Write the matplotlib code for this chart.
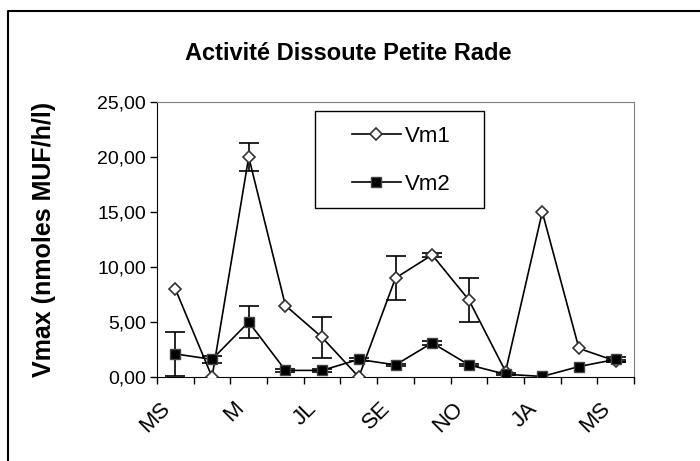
import matplotlib.pyplot as plt
import matplotlib.transforms as mtransforms
from matplotlib.lines import Line2D
from matplotlib.patches import Rectangle
from matplotlib.legend_handler import HandlerLine2D
import numpy as np

months = ['MS', '', 'M', '', 'JL', '', 'SE', '', 'NO', '', 'JA', '', 'MS']
vm1 = [8.0, 0.0, 20.0, 6.5, 3.6, 0.0, 9.0, 11.1, 7.0, 0.5, 15.0, 2.6, 1.45]
vm1_err = [0, 0, 1.25, 0, 1.9, 0, 2.0, 0.15, 2.0, 0, 0, 0, 0.1]
vm2 = [2.1, 1.6, 5.0, 0.6, 0.6, 1.6, 1.1, 3.1, 1.1, 0.25, 0.05, 0.95, 1.6]
vm2_err = [2.0, 0.3, 1.45, 0.1, 0.15, 0.1, 0.1, 0.15, 0.1, 0.1, 0, 0, 0.2]

plt.rcParams['font.family'] = ['Liberation Sans', 'DejaVu Sans']

fig = plt.figure(figsize=(7, 4.61), dpi=100)
ax = fig.add_axes([157 / 700, 1 - 377 / 461, 477 / 700, 275 / 461])

x = np.arange(len(vm1))
series = [
    (vm1, vm1_err, 'Vm1', dict(marker='D', ms=6.5, mfc='white', mec='#333333', mew=1.2)),
    (vm2, vm2_err, 'Vm2', dict(marker='s', ms=7, mfc='black', mec='#444444', mew=1)),
]
for vals, errs, name, mk in series:
    vals = np.array(vals)
    errs = np.array(errs)
    has = errs > 0
    ax.errorbar(x[has], vals[has], yerr=errs[has], fmt='none', ecolor='black',
                elinewidth=1.2, capsize=7, capthick=1.2, zorder=2)
    ax.plot(x, vals, color='black', lw=1.2, label=name, zorder=3, **mk)

ax.set_xlim(-0.5, len(vm1) - 0.5)
ax.set_ylim(0, 25)
ax.set_yticks(np.arange(0, 26, 5))
ax.set_yticklabels([f'{v:.2f}'.replace('.', ',') for v in np.arange(0, 26, 5)],
                   fontsize=14)
ax.tick_params(axis='y', direction='out', length=5, width=1, pad=3)

# tick marks between categories, labels under categories
ax.set_xticks(np.arange(-0.5, len(vm1), 1.0))
ax.set_xticklabels([])
ax.tick_params(axis='x', which='major', direction='out', length=5, width=1)
lab_pos = [i for i, m in enumerate(months) if m]
ax.set_xticks(lab_pos, minor=True)
ax.set_xticklabels([m for m in months if m], minor=True, rotation=45,
                   ha='right', va='top', rotation_mode='anchor', fontsize=16)
ax.tick_params(axis='x', which='minor', length=0, pad=15)
shift = mtransforms.ScaledTranslation(-16 / 100, 0, fig.dpi_scale_trans)
for lbl in ax.get_xticklabels(minor=True):
    lbl.set_transform(lbl.get_transform() + shift)

for s in ['top', 'right']:
    ax.spines[s].set_color('#808080')
for s in ['left', 'bottom']:
    ax.spines[s].set_color('black')

ax.set_ylabel('Vmax (nmoles MUF/h/l)', fontsize=18, fontweight='bold')
ax.yaxis.set_label_coords(-0.212, 0.5)

fig.text(0.497, 1 - 53 / 461, 'Activité Dissoute Petite Rade', fontsize=17,
         fontweight='bold', ha='center', va='center')

leg = ax.legend(loc='upper left', bbox_to_anchor=((315 - 157) / 477, (377 - 114) / 275),
                fontsize=16, frameon=False, borderpad=0.55,
                labelspacing=1.2, handlelength=3.3, handletextpad=0.2,
                borderaxespad=0, handler_map={Line2D: HandlerLine2D(xpad=1.1)})
ax.add_patch(Rectangle(((315 - 157) / 477, (377 - 208) / 275), 169 / 477, 97 / 275,
                       transform=ax.transAxes, fill=False, ec='black', lw=1,
                       zorder=4))

# outer chart border
fig.add_artist(Line2D([8 / 700, 8 / 700, 1], [0, 1 - 11 / 461, 1 - 11 / 461],
                      color='black', lw=1.5, transform=fig.transFigure))

fig.savefig('out.png', dpi=100)
